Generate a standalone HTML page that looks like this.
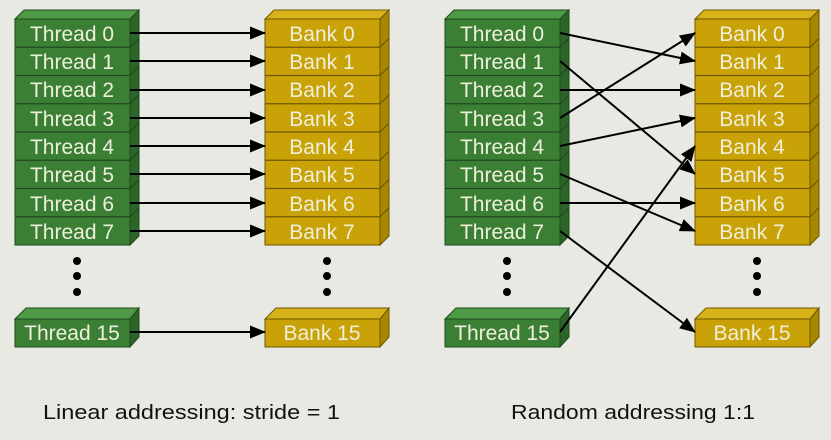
<!DOCTYPE html>
<html><head><meta charset="utf-8"><style>
html,body{margin:0;padding:0;background:#e9e9e4;}
svg{display:block}
text{font-family:"Liberation Sans",sans-serif;}
</style></head><body>
<svg width="831" height="440" viewBox="0 0 831 440" xmlns="http://www.w3.org/2000/svg">
<defs>
<marker id="ah" markerWidth="16" markerHeight="13" refX="15" refY="6.5" orient="auto" markerUnits="userSpaceOnUse">
<path d="M0,0 L16,6.5 L0,13 z" fill="#000"/></marker>
<g id="gstack">
<polygon points="0,19 9,10 124,10 115,19" fill="#4e9a47" stroke="#1f4a1c" stroke-width="1"/>
<polygon points="115,19 124,10 124,236 115,245" fill="#2d6529" stroke="#1f4a1c" stroke-width="1"/>
<rect x="0" y="19" width="115" height="226" fill="#3b7f35" stroke="#1f4a1c" stroke-width="1"/>
<g stroke="#1f4a1c" stroke-width="1.2">
<line x1="0" y1="47.25" x2="115" y2="47.25"/><line x1="115" y1="47.25" x2="124" y2="38.25"/>
<line x1="0" y1="75.5" x2="115" y2="75.5"/><line x1="115" y1="75.5" x2="124" y2="66.5"/>
<line x1="0" y1="103.75" x2="115" y2="103.75"/><line x1="115" y1="103.75" x2="124" y2="94.75"/>
<line x1="0" y1="132" x2="115" y2="132"/><line x1="115" y1="132" x2="124" y2="123"/>
<line x1="0" y1="160.25" x2="115" y2="160.25"/><line x1="115" y1="160.25" x2="124" y2="151.25"/>
<line x1="0" y1="188.5" x2="115" y2="188.5"/><line x1="115" y1="188.5" x2="124" y2="179.5"/>
<line x1="0" y1="216.75" x2="115" y2="216.75"/><line x1="115" y1="216.75" x2="124" y2="207.75"/>
</g></g>
<g id="ystack">
<polygon points="0,19 9,10 124,10 115,19" fill="#d8b21a" stroke="#6e5800" stroke-width="1"/>
<polygon points="115,19 124,10 124,236 115,245" fill="#a88700" stroke="#6e5800" stroke-width="1"/>
<rect x="0" y="19" width="115" height="226" fill="#c9a208" stroke="#6e5800" stroke-width="1"/>
<g stroke="#6e5800" stroke-width="1.2">
<line x1="0" y1="47.25" x2="115" y2="47.25"/><line x1="115" y1="47.25" x2="124" y2="38.25"/>
<line x1="0" y1="75.5" x2="115" y2="75.5"/><line x1="115" y1="75.5" x2="124" y2="66.5"/>
<line x1="0" y1="103.75" x2="115" y2="103.75"/><line x1="115" y1="103.75" x2="124" y2="94.75"/>
<line x1="0" y1="132" x2="115" y2="132"/><line x1="115" y1="132" x2="124" y2="123"/>
<line x1="0" y1="160.25" x2="115" y2="160.25"/><line x1="115" y1="160.25" x2="124" y2="151.25"/>
<line x1="0" y1="188.5" x2="115" y2="188.5"/><line x1="115" y1="188.5" x2="124" y2="179.5"/>
<line x1="0" y1="216.75" x2="115" y2="216.75"/><line x1="115" y1="216.75" x2="124" y2="207.75"/>
</g></g>
<g id="gone">
<polygon points="0,319 11,308 124,308 115,319" fill="#4e9a47" stroke="#1f4a1c"/>
<polygon points="115,319 124,308 124,337 115,347" fill="#2d6529" stroke="#1f4a1c"/>
<rect x="0" y="319" width="115" height="28" fill="#3b7f35" stroke="#1f4a1c"/>
</g>
<g id="yone">
<polygon points="0,319 11,308 124,308 115,319" fill="#d8b21a" stroke="#6e5800"/>
<polygon points="115,319 124,308 124,337 115,347" fill="#a88700" stroke="#6e5800"/>
<rect x="0" y="319" width="115" height="28" fill="#c9a208" stroke="#6e5800"/>
</g>
<g id="dots" fill="#000"><circle cx="0" cy="261" r="4"/><circle cx="0" cy="276" r="4"/><circle cx="0" cy="292" r="4"/></g>
</defs>

<use href="#gstack" x="15"/><use href="#ystack" x="265"/>
<use href="#gstack" x="445"/><use href="#ystack" x="695"/>
<use href="#gone" x="15"/><use href="#yone" x="265"/>
<use href="#gone" x="445"/><use href="#yone" x="695"/>
<use href="#dots" x="77"/><use href="#dots" x="327"/>
<use href="#dots" x="507"/><use href="#dots" x="757"/>

<g font-size="21" fill="#eef0dc" text-anchor="middle">
<text x="72" y="41">Thread 0</text><text x="72" y="69">Thread 1</text><text x="72" y="97">Thread 2</text><text x="72" y="126">Thread 3</text>
<text x="72" y="154">Thread 4</text><text x="72" y="182">Thread 5</text><text x="72" y="211">Thread 6</text><text x="72" y="239">Thread 7</text>
<text x="72" y="340">Thread 15</text>
<text x="322" y="41">Bank 0</text><text x="322" y="69">Bank 1</text><text x="322" y="97">Bank 2</text><text x="322" y="126">Bank 3</text>
<text x="322" y="154">Bank 4</text><text x="322" y="182">Bank 5</text><text x="322" y="211">Bank 6</text><text x="322" y="239">Bank 7</text>
<text x="322" y="340">Bank 15</text>
<text x="502" y="41">Thread 0</text><text x="502" y="69">Thread 1</text><text x="502" y="97">Thread 2</text><text x="502" y="126">Thread 3</text>
<text x="502" y="154">Thread 4</text><text x="502" y="182">Thread 5</text><text x="502" y="211">Thread 6</text><text x="502" y="239">Thread 7</text>
<text x="502" y="340">Thread 15</text>
<text x="752" y="41">Bank 0</text><text x="752" y="69">Bank 1</text><text x="752" y="97">Bank 2</text><text x="752" y="126">Bank 3</text>
<text x="752" y="154">Bank 4</text><text x="752" y="182">Bank 5</text><text x="752" y="211">Bank 6</text><text x="752" y="239">Bank 7</text>
<text x="752" y="340">Bank 15</text>
</g>

<g stroke="#000" stroke-width="2" marker-end="url(#ah)">
<line x1="130" y1="33" x2="265" y2="33"/><line x1="130" y1="61" x2="265" y2="61"/>
<line x1="130" y1="90" x2="265" y2="90"/><line x1="130" y1="118" x2="265" y2="118"/>
<line x1="130" y1="146" x2="265" y2="146"/><line x1="130" y1="174" x2="265" y2="174"/>
<line x1="130" y1="203" x2="265" y2="203"/><line x1="130" y1="231" x2="265" y2="231"/>
<line x1="130" y1="332" x2="265" y2="332"/>

<line x1="560" y1="33" x2="695" y2="61"/>
<line x1="560" y1="61" x2="695" y2="174"/>
<line x1="560" y1="90" x2="695" y2="90"/>
<line x1="560" y1="118" x2="695" y2="33"/>
<line x1="560" y1="146" x2="695" y2="118"/>
<line x1="560" y1="174" x2="695" y2="231"/>
<line x1="560" y1="203" x2="695" y2="203"/>
<line x1="560" y1="231" x2="695" y2="332"/>
<line x1="560" y1="332" x2="695" y2="146"/>
</g>

<g font-size="20" fill="#111">
<text x="43" y="419" textLength="297" lengthAdjust="spacingAndGlyphs">Linear addressing: stride = 1</text>
<text x="511" y="419" textLength="244" lengthAdjust="spacingAndGlyphs">Random addressing 1:1</text>
</g>
</svg>
</body></html>
